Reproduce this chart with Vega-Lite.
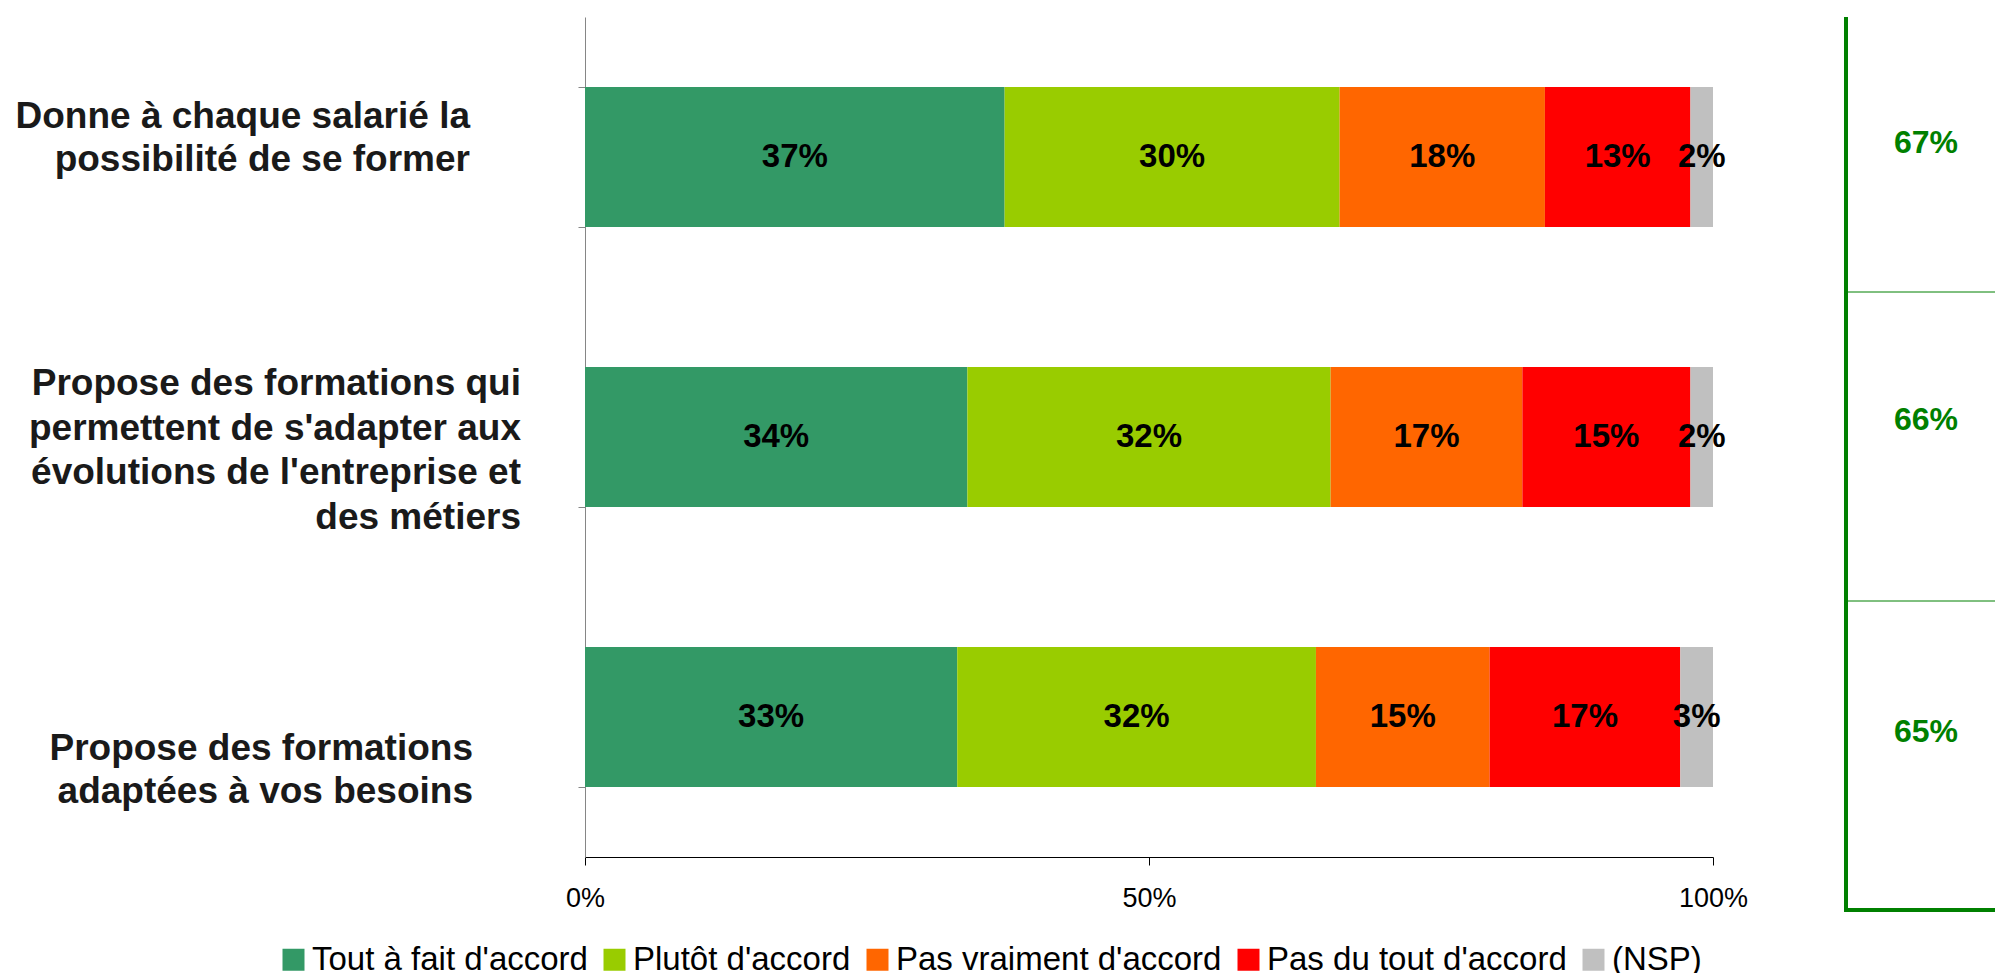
{
  "$schema": "https://vega.github.io/schema/vega-lite/v6.json",
  "padding": {"left": 15, "top": 15, "right": 0, "bottom": 0},
  "background": "white",
  "config": {
    "font": "Liberation Sans",
    "view": {"stroke": null},
    "concat": {"spacing": 96}
  },
  "datasets": {
    "survey": [
      {"question": "Donne à chaque salarié la|possibilité de se former", "reponse": "Tout à fait d'accord", "ordre": 1, "part": 0.372},
      {"question": "Donne à chaque salarié la|possibilité de se former", "reponse": "Plutôt d'accord", "ordre": 2, "part": 0.297},
      {"question": "Donne à chaque salarié la|possibilité de se former", "reponse": "Pas vraiment d'accord", "ordre": 3, "part": 0.182},
      {"question": "Donne à chaque salarié la|possibilité de se former", "reponse": "Pas du tout d'accord", "ordre": 4, "part": 0.129},
      {"question": "Donne à chaque salarié la|possibilité de se former", "reponse": "(NSP)", "ordre": 5, "part": 0.020},
      {"question": "Propose des formations qui|permettent de s'adapter aux|évolutions de l'entreprise et|des métiers", "reponse": "Tout à fait d'accord", "ordre": 1, "part": 0.339},
      {"question": "Propose des formations qui|permettent de s'adapter aux|évolutions de l'entreprise et|des métiers", "reponse": "Plutôt d'accord", "ordre": 2, "part": 0.322},
      {"question": "Propose des formations qui|permettent de s'adapter aux|évolutions de l'entreprise et|des métiers", "reponse": "Pas vraiment d'accord", "ordre": 3, "part": 0.170},
      {"question": "Propose des formations qui|permettent de s'adapter aux|évolutions de l'entreprise et|des métiers", "reponse": "Pas du tout d'accord", "ordre": 4, "part": 0.149},
      {"question": "Propose des formations qui|permettent de s'adapter aux|évolutions de l'entreprise et|des métiers", "reponse": "(NSP)", "ordre": 5, "part": 0.020},
      {"question": "Propose des formations|adaptées à vos besoins", "reponse": "Tout à fait d'accord", "ordre": 1, "part": 0.330},
      {"question": "Propose des formations|adaptées à vos besoins", "reponse": "Plutôt d'accord", "ordre": 2, "part": 0.318},
      {"question": "Propose des formations|adaptées à vos besoins", "reponse": "Pas vraiment d'accord", "ordre": 3, "part": 0.154},
      {"question": "Propose des formations|adaptées à vos besoins", "reponse": "Pas du tout d'accord", "ordre": 4, "part": 0.169},
      {"question": "Propose des formations|adaptées à vos besoins", "reponse": "(NSP)", "ordre": 5, "part": 0.029}
    ]
  },
  "hconcat": [
    {
      "width": 1128,
      "height": 840,
      "data": {"name": "survey"},
      "encoding": {
        "y": {
          "field": "question",
          "type": "nominal",
          "sort": null,
          "scale": {"paddingInner": 0.5, "paddingOuter": 0.25},
          "axis": {
            "title": null,
            "labels": false,
            "tickBand": "extent",
            "tickSize": 7,
            "tickColor": "#868686",
            "domainColor": "#868686"
          }
        }
      },
      "layer": [
        {
          "mark": {"type": "bar"},
          "encoding": {
            "x": {
              "field": "part",
              "type": "quantitative",
              "stack": "zero",
              "scale": {"domain": [0, 1]},
              "axis": {
                "title": null,
                "values": [0, 0.5, 1],
                "format": ".0%",
                "grid": false,
                "labelFlush": false,
                "domainColor": "black",
                "tickColor": "black",
                "tickSize": 8,
                "labelFontSize": 27,
                "labelColor": "black",
                "labelPadding": 20
              }
            },
            "color": {
              "field": "reponse",
              "type": "nominal",
              "scale": {
                "domain": ["Tout à fait d'accord", "Plutôt d'accord", "Pas vraiment d'accord", "Pas du tout d'accord", "(NSP)"],
                "range": ["#339966", "#99cc00", "#ff6600", "#ff0000", "#c0c0c0"]
              },
              "legend": {
                "title": null,
                "orient": "none",
                "legendX": -308,
                "legendY": 926,
                "direction": "horizontal",
                "symbolType": "square",
                "symbolSize": 484,
                "symbolStrokeWidth": 0,
                "symbolOpacity": 1,
                "labelFontSize": 33,
                "labelColor": "black",
                "labelOffset": 2,
                "columnPadding": 10,
                "labelLimit": 600
              }
            },
            "order": {"field": "ordre", "type": "quantitative"}
          }
        },
        {
          "mark": {"type": "text", "fontSize": 33, "fontWeight": "bold", "color": "black", "baseline": "middle", "align": "center"},
          "encoding": {
            "x": {"field": "part", "type": "quantitative", "stack": "zero", "bandPosition": 0.5},
            "detail": {"field": "reponse"},
            "order": {"field": "ordre", "type": "quantitative"},
            "text": {"field": "part", "type": "quantitative", "format": ".0%"}
          }
        },
        {
          "transform": [{"filter": "datum.ordre === 1 && indexof(datum.question, 'Donne') === 0"}],
          "mark": {"type": "text", "fontSize": 37, "fontWeight": "bold", "color": "#1a1a1a", "baseline": "middle", "align": "right", "lineBreak": "|", "lineHeight": 43, "dx": -115, "dy": -40},
          "encoding": {
            "x": {"datum": 0, "type": "quantitative"},
            "text": {"field": "question"}
          }
        },
        {
          "transform": [{"filter": "datum.ordre === 1 && indexof(datum.question, 'qui|') > 0"}],
          "mark": {"type": "text", "fontSize": 37, "fontWeight": "bold", "color": "#1a1a1a", "baseline": "middle", "align": "right", "lineBreak": "|", "lineHeight": 44.5, "dx": -64, "dy": -53},
          "encoding": {
            "x": {"datum": 0, "type": "quantitative"},
            "text": {"field": "question"}
          }
        },
        {
          "transform": [{"filter": "datum.ordre === 1 && indexof(datum.question, 'besoins') > 0"}],
          "mark": {"type": "text", "fontSize": 37, "fontWeight": "bold", "color": "#1a1a1a", "baseline": "middle", "align": "right", "lineBreak": "|", "lineHeight": 43, "dx": -112, "dy": 32},
          "encoding": {
            "x": {"datum": 0, "type": "quantitative"},
            "text": {"field": "question"}
          }
        }
      ]
    },
    {
      "width": 150,
      "height": 895,
      "data": {"name": "survey"},
      "encoding": {
        "y": {
          "field": "question",
          "type": "nominal",
          "sort": null,
          "scale": {"paddingInner": 0, "paddingOuter": 0, "range": [-34, 893]},
          "axis": null
        }
      },
      "layer": [
        {
          "transform": [{"filter": "datum.ordre <= 2 && indexof(datum.question, 'Donne') === 0"}],
          "mark": {"type": "text", "fontSize": 32, "fontWeight": "bold", "color": "#008000", "baseline": "middle", "align": "center", "dy": 5, "dx": 5},
          "encoding": {
            "text": {"aggregate": "sum", "field": "part", "type": "quantitative", "format": ".0%"}
          }
        },
        {
          "transform": [{"filter": "datum.ordre <= 2 && indexof(datum.question, 'qui|') > 0"}],
          "mark": {"type": "text", "fontSize": 32, "fontWeight": "bold", "color": "#008000", "baseline": "middle", "align": "center", "dy": -27, "dx": 5},
          "encoding": {
            "text": {"aggregate": "sum", "field": "part", "type": "quantitative", "format": ".0%"}
          }
        },
        {
          "transform": [{"filter": "datum.ordre <= 2 && indexof(datum.question, 'besoins') > 0"}],
          "mark": {"type": "text", "fontSize": 32, "fontWeight": "bold", "color": "#008000", "baseline": "middle", "align": "center", "dy": -24, "dx": 5},
          "encoding": {
            "text": {"aggregate": "sum", "field": "part", "type": "quantitative", "format": ".0%"}
          }
        },
        {
          "transform": [{"filter": "datum.ordre === 1"}],
          "mark": {"type": "rule", "color": "#008000", "strokeWidth": 4},
          "encoding": {
            "y": null,
            "x": {"datum": 0, "type": "quantitative", "scale": {"domain": [0, 1]}, "axis": null}
          }
        },
        {
          "transform": [{"filter": "datum.ordre === 1 && indexof(datum.question, 'Donne') < 0"}],
          "mark": {"type": "rule", "color": "#008000", "strokeWidth": 1},
          "encoding": {
            "y": {"field": "question", "type": "nominal", "sort": null, "bandPosition": 0}
          }
        },
        {
          "transform": [{"filter": "datum.ordre === 1 && indexof(datum.question, 'besoins') >= 0"}],
          "mark": {"type": "rule", "color": "#008000", "strokeWidth": 4},
          "encoding": {
            "y": {"field": "question", "type": "nominal", "sort": null, "bandPosition": 1}
          }
        }
      ]
    }
  ]
}
